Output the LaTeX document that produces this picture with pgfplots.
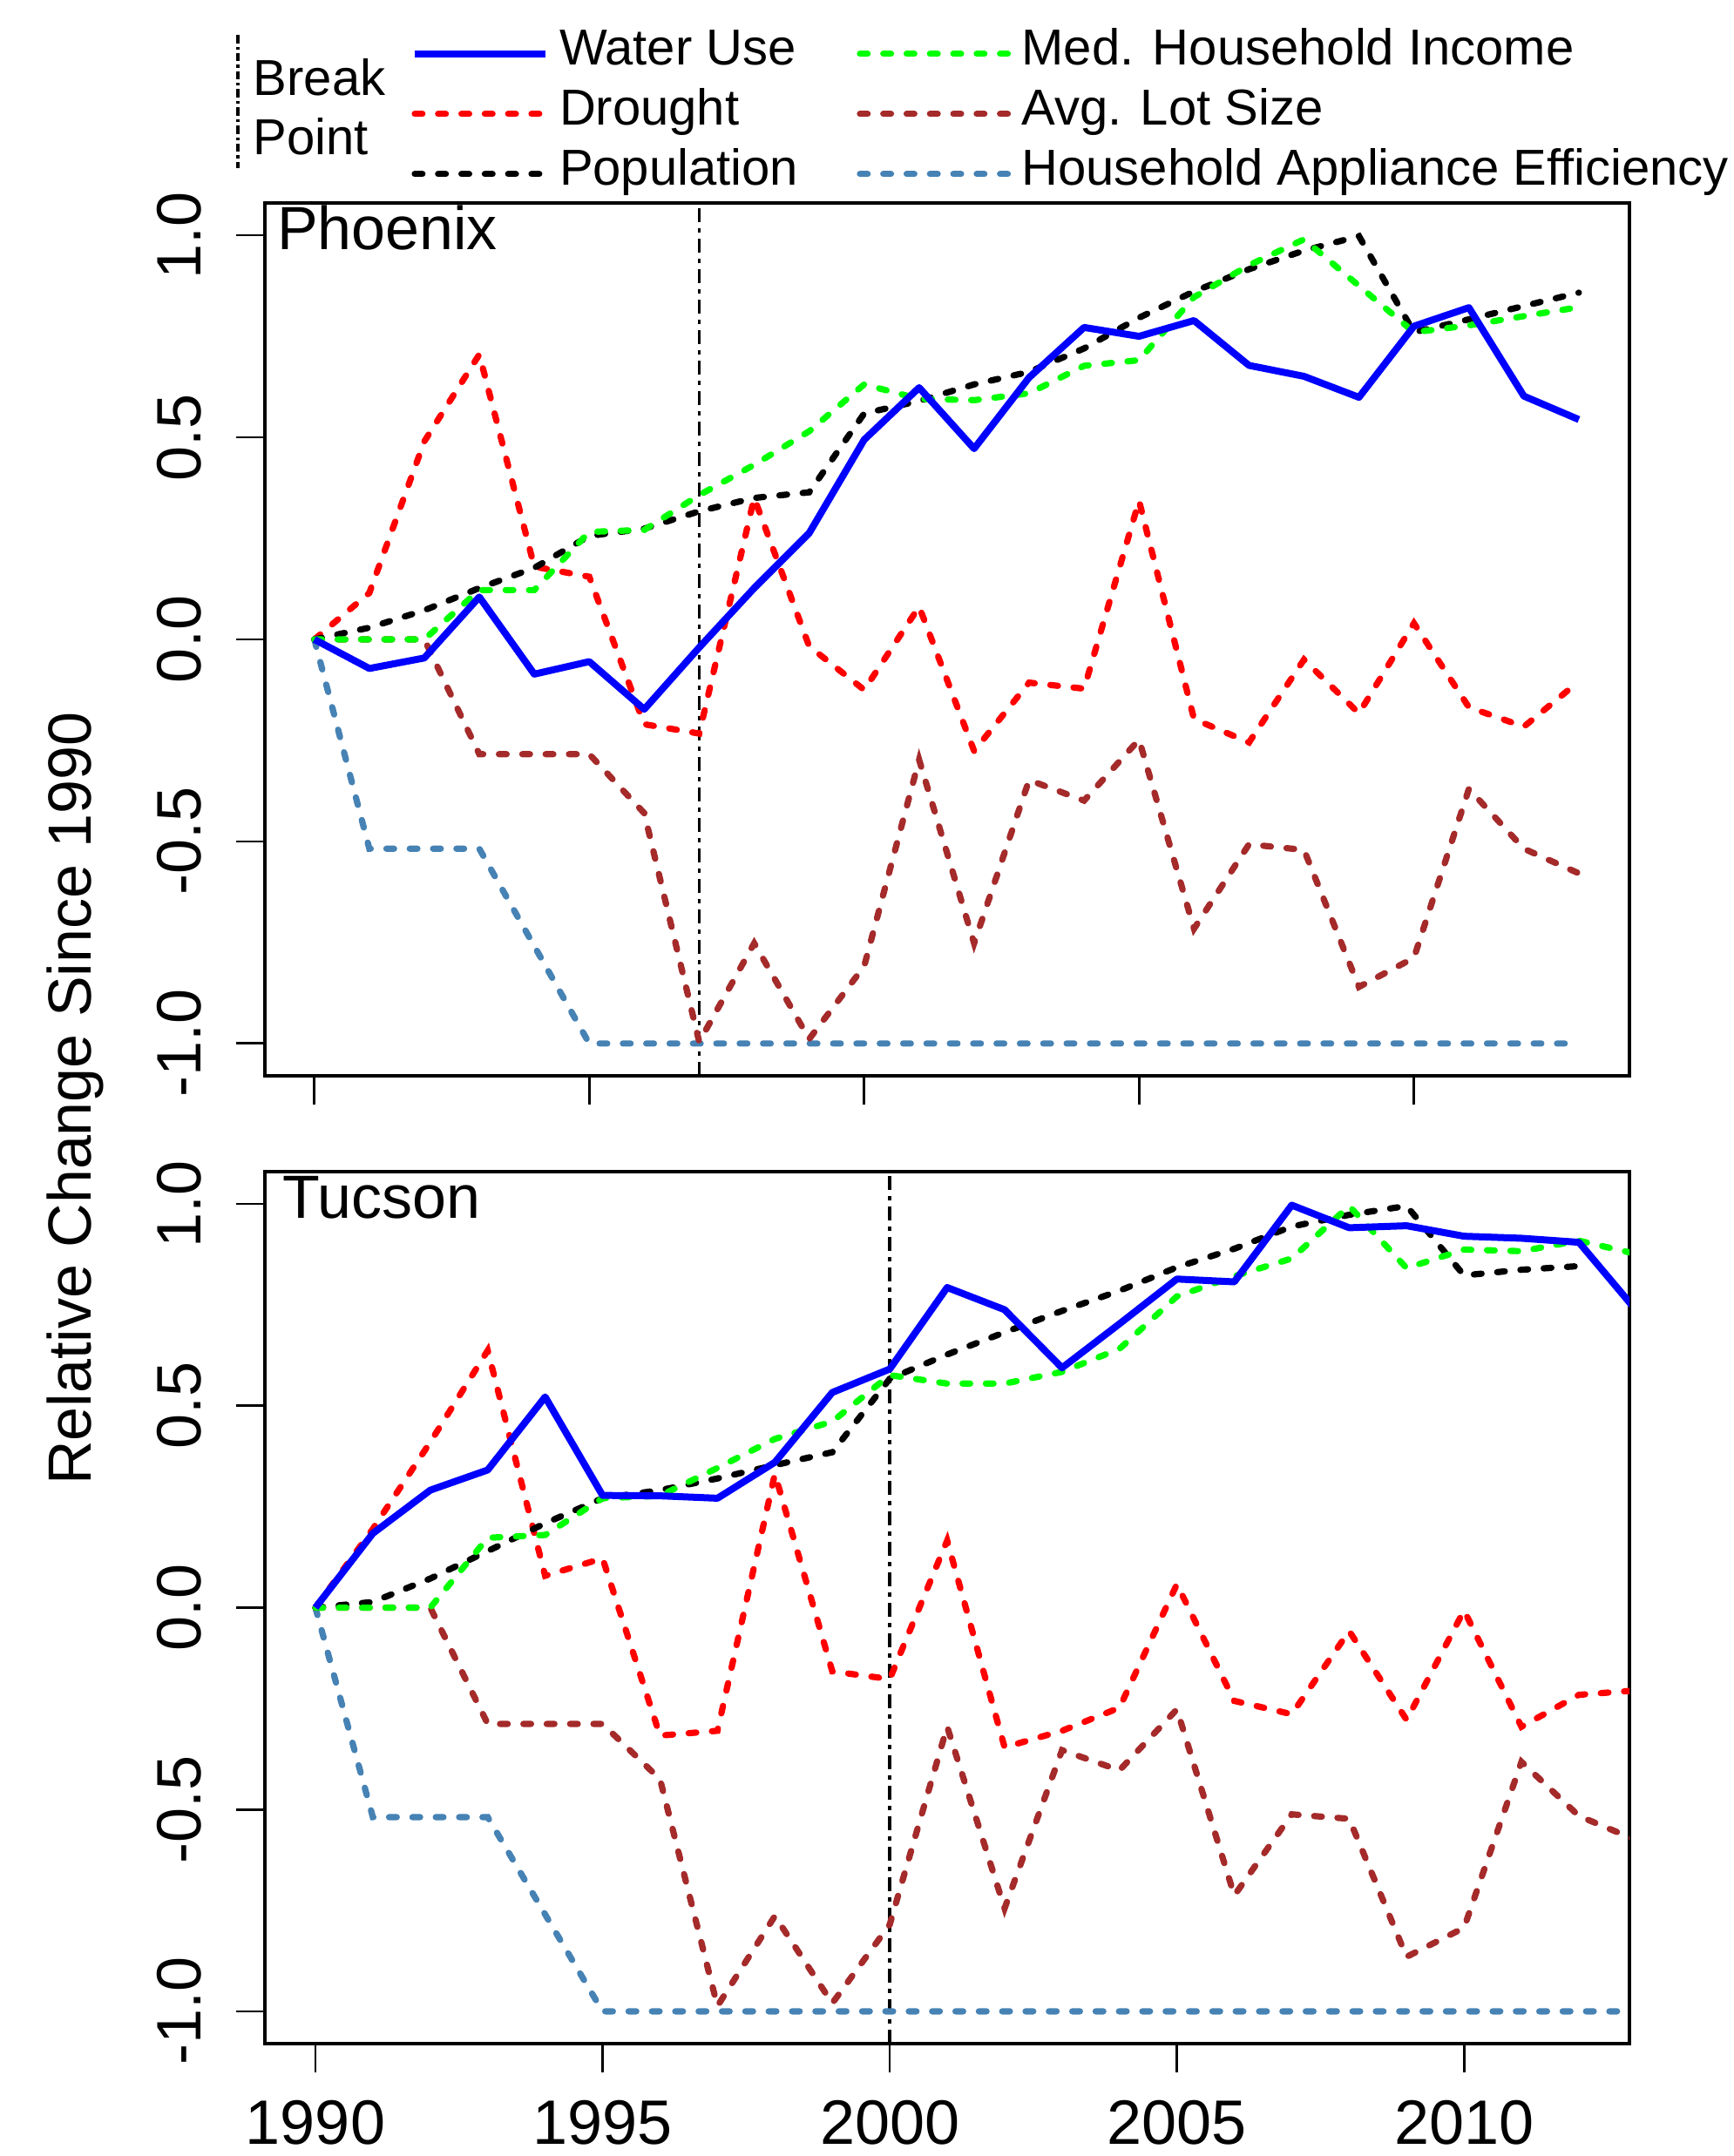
\documentclass[border=0pt]{standalone}
\usepackage{fontspec}
\setmainfont{Liberation Sans}
\usepackage{pgfplots}
\pgfplotsset{compat=1.18}
\usepackage{pgfplotstable}

\definecolor{cwater}{RGB}{0,0,255}
\definecolor{cdrought}{RGB}{255,0,0}
\definecolor{cincome}{RGB}{0,255,0}
\definecolor{clot}{RGB}{165,42,42}
\definecolor{chae}{RGB}{70,130,180}

\pgfplotstableread{
year water drought pop income lot hae
1990 0 0 0 0 0 0
1991 -0.072 0.115 0.029 0 0 -0.518
1992 -0.046 0.49 0.072 0 0 -0.518
1993 0.105 0.705 0.127 0.122 -0.284 -0.518
1994 -0.086 0.18 0.177 0.122 -0.284 -0.759
1995 -0.055 0.155 0.256 0.266 -0.284 -1
1996 -0.173 -0.21 0.274 0.271 -0.43 -1
1997 -0.02 -0.233 0.317 0.357 -0.996 -1
1998 0.127 0.35 0.35 0.432 -0.752 -1
1999 0.263 -0.017 0.364 0.515 -0.989 -1
2000 0.494 -0.125 0.559 0.631 -0.809 -1
2001 0.623 0.081 0.59 0.595 -0.298 -1
2002 0.472 -0.276 0.631 0.592 -0.752 -1
2003 0.648 -0.107 0.662 0.609 -0.348 -1
2004 0.772 -0.122 0.72 0.677 -0.399 -1
2005 0.750 0.343 0.796 0.691 -0.248 -1
2006 0.789 -0.197 0.861 0.847 -0.716 -1
2007 0.678 -0.255 0.916 0.926 -0.507 -1
2008 0.651 -0.05 0.962 0.99 -0.521 -1
2009 0.599 -0.183 0.998 0.875 -0.86 -1
2010 0.775 0.04 0.76 0.76 -0.788 -1
2011 0.821 -0.168 0.792 0.777 -0.37 -1
2012 0.602 -0.216 0.825 0.80 -0.518 -1
2013 0.544 -0.104 0.858 0.822 -0.579 -1
}\phx

\pgfplotstableread{
year water drought pop income lot hae
1990 0 0 0 0 0 0
1991 0.184 0.195 0.014 0 0 -0.519
1992 0.291 0.41 0.072 0 0 -0.519
1993 0.341 0.637 0.14 0.173 -0.288 -0.519
1994 0.522 0.079 0.209 0.18 -0.288 -0.76
1995 0.278 0.122 0.271 0.271 -0.288 -1
1996 0.277 -0.317 0.291 0.277 -0.425 -1
1997 0.271 -0.305 0.32 0.346 -0.987 -1
1998 0.36 0.331 0.353 0.418 -0.764 -1
1999 0.533 -0.158 0.385 0.461 -0.98 -1
2000 0.591 -0.177 0.567 0.576 -0.785 -1
2001 0.793 0.166 0.627 0.555 -0.295 -1
2002 0.738 -0.346 0.682 0.555 -0.745 -1
2003 0.594 -0.305 0.735 0.584 -0.353 -1
2004 0.703 -0.248 0.785 0.641 -0.403 -1
2005 0.814 0.058 0.843 0.771 -0.252 -1
2006 0.807 -0.231 0.889 0.821 -0.713 -1
2007 0.997 -0.264 0.944 0.865 -0.512 -1
2008 0.941 -0.058 0.973 0.995 -0.523 -1
2009 0.946 -0.278 0.995 0.841 -0.865 -1
2010 0.92 -0.007 0.823 0.887 -0.793 -1
2011 0.915 -0.295 0.837 0.883 -0.382 -1
2012 0.905 -0.216 0.846 0.909 -0.516 -1
2013 0.736 -0.205 nan 0.876 -0.576 -1
}\tuc

\tikzset{
  dsh/.style={line width=1.8pt, line cap=round, dash pattern=on 2.2pt off 4.5pt},
  sol/.style={line width=2pt, line join=round},
  brk/.style={line width=0.9pt, dash pattern=on 3.9pt off 1.8pt on 1.25pt off 1.8pt},
}

\pgfplotsset{
  limA/.style={legend image code/.code={\draw[##1] (0pt,0pt) -- (37.5pt,0pt);}},
  limB/.style={legend image code/.code={\draw[##1] (0pt,0pt) -- (42.5pt,0pt);}},
  panel/.style={
    scale only axis, width=391.5pt,
    ymin=-1.08, ymax=1.08,
    ytick={-1,-0.5,0,0.5,1},
    yticklabels={-1.0,-0.5,0.0,0.5,1.0},
    xtick={1990,1995,2000,2005,2010},
    tick pos=left, tick align=outside,
    major tick length=8.25pt,
    every tick/.style={black, line width=0.7pt},
    axis line style={line width=1.1pt},
    yticklabel style={font=\fontsize{18}{18}\selectfont, anchor=base, xshift=-10.25pt, rotate=90, inner sep=0pt},
    xticklabel style={font=\fontsize{18}{18}\selectfont, anchor=base, yshift=-20.5pt, inner sep=0pt},
  },
}

\begin{document}
\begin{tikzpicture}
\path[use as bounding box] (0pt,0pt) rectangle (497.5pt,618.75pt);

\begin{axis}[panel, at={(76pt,310pt)}, anchor=south west, height=250.5pt,
  xmin=1989.1, xmax=2013.92, xticklabels={,,,,},
  legend columns=2,
  legend style={draw=none, fill=none, inner sep=0pt, outer sep=0pt,
    at={(axis description cs:0.10728,1.2016)}, anchor=north west,
    font=\fontsize{14.5}{14.5}\selectfont,
    row sep=1.85pt,
    cells={anchor=west},
    nodes={inner sep=0pt, text height=11pt, text depth=4.4pt},
    /tikz/every odd column/.append style={column sep=3pt},
    /tikz/every even column/.append style={column sep=16.8pt},
  },
]
  \addlegendimage{limA, cwater, sol}
  \addlegendentry{Water Use}
  \addlegendimage{limB, cincome, dsh}
  \addlegendentry{Med. Household Income}
  \addlegendimage{limA, cdrought, dsh}
  \addlegendentry{Drought}
  \addlegendimage{limB, clot, dsh}
  \addlegendentry{Avg. Lot Size}
  \addlegendimage{limA, black, dsh}
  \addlegendentry{Population}
  \addlegendimage{limB, chae, dsh}
  \addlegendentry{Household Appliance Efficiency}

  \addplot[brk, forget plot] coordinates {(1997,-1.08) (1997,1.08)};
  \addplot[chae, dsh, forget plot] table[x=year, y=hae] {\phx};
  \addplot[clot, dsh, forget plot] table[x=year, y=lot] {\phx};
  \addplot[cdrought, dsh, forget plot] table[x=year, y=drought] {\phx};
  \addplot[black, dsh, forget plot] table[x=year, y=pop] {\phx};
  \addplot[cincome, dsh, forget plot] table[x=year, y=income] {\phx};
  \addplot[cwater, sol, forget plot] table[x=year, y=water] {\phx};
\end{axis}

\begin{axis}[panel, at={(76pt,32.25pt)}, anchor=south west, height=250.25pt,
  xmin=1989.12, xmax=2012.88, xticklabels={1990,1995,2000,2005,2010},
]
  \addplot[brk, forget plot] coordinates {(2000,-1.08) (2000,1.08)};
  \addplot[chae, dsh, forget plot] table[x=year, y=hae] {\tuc};
  \addplot[clot, dsh, forget plot] table[x=year, y=lot] {\tuc};
  \addplot[cdrought, dsh, forget plot] table[x=year, y=drought] {\tuc};
  \addplot[black, dsh, forget plot] table[x=year, y=pop] {\tuc};
  \addplot[cincome, dsh, forget plot] table[x=year, y=income] {\tuc};
  \addplot[cwater, sol, forget plot] table[x=year, y=water] {\tuc};
\end{axis}

\node[anchor=base west, inner sep=0pt, font=\fontsize{17.5}{17.5}\selectfont] at (79.3pt,547pt) {Phoenix};
\node[anchor=base west, inner sep=0pt, font=\fontsize{17.5}{17.5}\selectfont] at (81pt,269pt) {Tucson};
\node[rotate=90, anchor=base, inner sep=0pt, font=\fontsize{17.5}{17.5}\selectfont] at (26.25pt,303.5pt) {Relative Change Since 1990};

\draw[line width=0.9pt, dash pattern=on 2.4pt off 1pt on 0.8pt off 1pt] (68.25pt,608.75pt) -- (68.25pt,570.5pt);
\node[anchor=base west, inner sep=0pt, font=\fontsize{14.5}{14.5}\selectfont] at (72.5pt,591.25pt) {Break};
\node[anchor=base west, inner sep=0pt, font=\fontsize{14.5}{14.5}\selectfont] at (72.5pt,574.25pt) {Point};
\end{tikzpicture}
\end{document}
